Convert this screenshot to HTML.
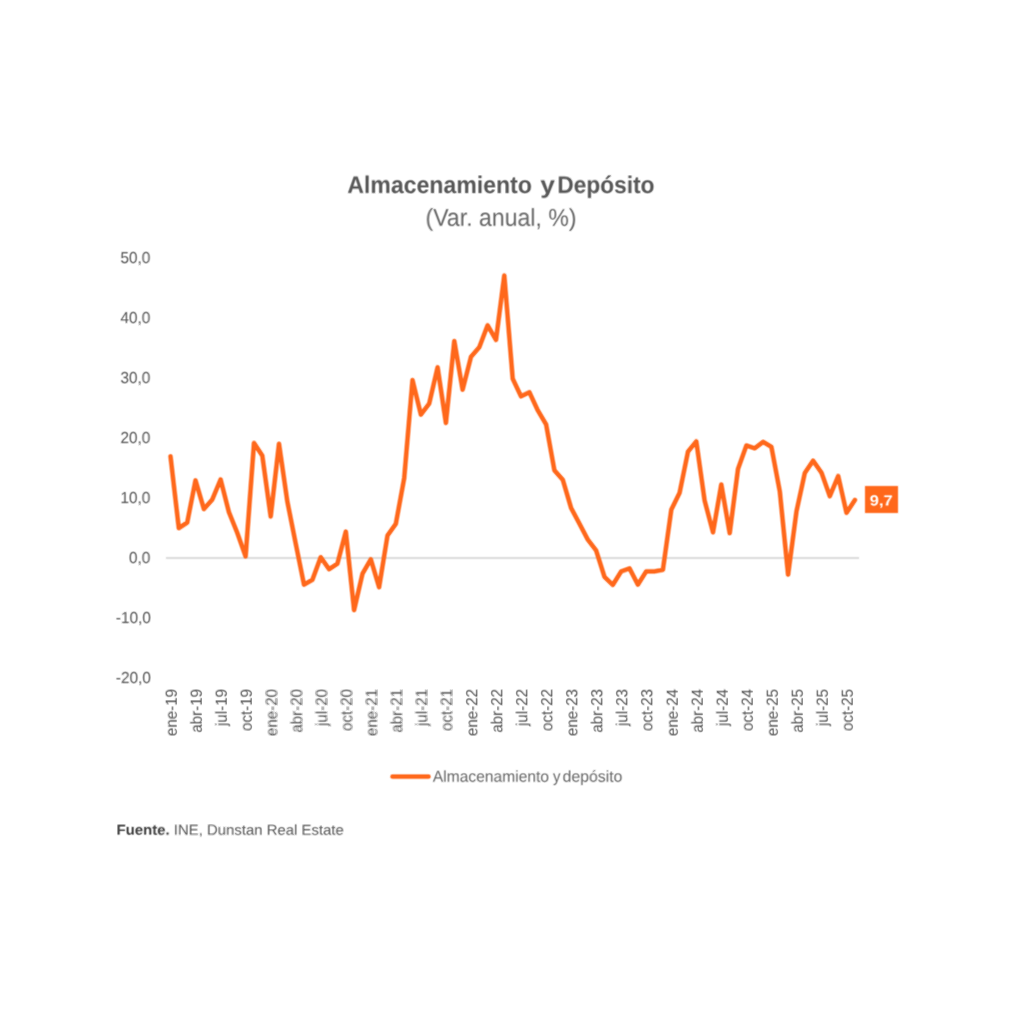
<!DOCTYPE html>
<html><head><meta charset="utf-8"><title>Almacenamiento y Depósito</title>
<style>
html,body{margin:0;padding:0;background:#fff;}
body{width:1024px;height:1024px;position:relative;overflow:hidden;font-family:"Liberation Sans",sans-serif;}
svg{position:absolute;left:0;top:0;filter:blur(0.2px);}
text{font-family:"Liberation Sans",sans-serif;text-rendering:geometricPrecision;}
.title{font-size:24.1px;font-weight:bold;fill:#595959;}
.sub{font-size:24.5px;fill:#6a6a6a;}
.yl{font-size:16.1px;fill:#555555;}
.xl{font-size:16px;fill:#555555;}
.leg{font-size:16px;fill:#6a6a6a;}
.src{font-size:14.5px;fill:#595959;}
.val{font-size:15px;font-weight:bold;fill:#fff;}
</style></head>
<body>
<svg width="1024" height="1024" viewBox="0 0 1024 1024">
<defs><g id="c">
<rect x="-2" y="-2" width="1028" height="1028" fill="#ffffff"/>
<text transform="translate(347.3,193) rotate(0.04)" class="title" textLength="184.6" lengthAdjust="spacingAndGlyphs">Almacenamiento</text>
<text transform="translate(540.3,193) rotate(0.04)" class="title" textLength="14.6" lengthAdjust="spacingAndGlyphs">y</text>
<text transform="translate(557.3,193) rotate(0.04)" class="title" textLength="97.2" lengthAdjust="spacingAndGlyphs">Depósito</text>
<text transform="translate(425.5,225.8) rotate(0.04)" class="sub" textLength="151" lengthAdjust="spacingAndGlyphs">(Var. anual, %)</text>
<text transform="translate(150.3,263.1) rotate(0.04) scale(0.955,1)" text-anchor="end" class="yl">50,0</text>
<text transform="translate(150.3,323.1) rotate(0.04) scale(0.955,1)" text-anchor="end" class="yl">40,0</text>
<text transform="translate(150.3,383.1) rotate(0.04) scale(0.955,1)" text-anchor="end" class="yl">30,0</text>
<text transform="translate(150.3,443.1) rotate(0.04) scale(0.955,1)" text-anchor="end" class="yl">20,0</text>
<text transform="translate(150.3,503.1) rotate(0.04) scale(0.955,1)" text-anchor="end" class="yl">10,0</text>
<text transform="translate(150.3,563.1) rotate(0.04) scale(0.955,1)" text-anchor="end" class="yl">0,0</text>
<text transform="translate(150.9,623.1) rotate(0.04) scale(0.955,1)" text-anchor="end" class="yl">-10,0</text>
<text transform="translate(150.9,683.1) rotate(0.04) scale(0.955,1)" text-anchor="end" class="yl">-20,0</text>

<line x1="166" y1="558" x2="859" y2="558" stroke="#d9d9d9" stroke-width="1.8"/>
<polyline points="170.5,456.3 178.8,528.1 187.2,522.6 195.5,480.4 203.9,509.0 212.2,499.7 220.6,479.5 228.9,512.1 237.3,532.9 245.6,556.4 254.0,443.0 262.3,455.7 270.7,516.5 279.0,443.8 287.3,501.3 295.7,543.5 304.0,584.6 312.4,579.8 320.7,557.2 329.1,569.2 337.4,563.7 345.8,531.6 354.1,610.1 362.5,573.7 370.8,559.3 379.1,587.2 387.5,535.5 395.8,523.9 404.2,478.2 412.5,380.1 420.9,414.6 429.2,403.6 437.6,367.3 445.9,422.9 454.3,341.1 462.6,389.7 471.0,356.8 479.3,347.2 487.6,325.3 496.0,339.9 504.3,275.5 512.7,378.7 521.0,396.3 529.4,392.3 537.7,410.2 546.1,424.4 554.4,470.3 562.8,479.8 571.1,508.0 579.5,523.8 587.8,539.6 596.1,550.4 604.5,576.9 612.8,584.9 621.2,571.4 629.5,568.4 637.9,584.6 646.2,571.4 654.6,571.4 662.9,569.8 671.3,509.7 679.6,492.8 688.0,451.6 696.3,441.4 704.6,500.5 713.0,532.3 721.3,484.5 729.7,533.1 738.0,469.0 746.4,445.5 754.7,448.3 763.1,441.9 771.4,446.9 779.8,491.4 788.1,574.6 796.5,511.3 804.8,473.0 813.1,460.7 821.5,472.7 829.8,496.2 838.2,476.1 846.5,512.8 854.9,500.0" fill="none" stroke="#ff681b" stroke-width="4.5" stroke-linejoin="round" stroke-linecap="round"/>
<rect x="865" y="486" width="33" height="27" fill="#ff681b"/>
<text transform="translate(881.2,505.6) rotate(0.04)" text-anchor="middle" class="val" textLength="23" lengthAdjust="spacingAndGlyphs">9,7</text>
<text transform="translate(176.7,689.0) rotate(-90) scale(0.945,1)" text-anchor="end" class="xl">ene-19</text>
<text transform="translate(201.7,689.0) rotate(-90) scale(0.945,1)" text-anchor="end" class="xl">abr-19</text>
<text transform="translate(226.8,689.0) rotate(-90) scale(0.945,1)" text-anchor="end" class="xl">jul-19</text>
<text transform="translate(251.8,689.0) rotate(-90) scale(0.945,1)" text-anchor="end" class="xl">oct-19</text>
<text transform="translate(276.9,689.0) rotate(-90) scale(0.945,1)" text-anchor="end" class="xl">ene-20</text>
<text transform="translate(301.9,689.0) rotate(-90) scale(0.945,1)" text-anchor="end" class="xl">abr-20</text>
<text transform="translate(326.9,689.0) rotate(-90) scale(0.945,1)" text-anchor="end" class="xl">jul-20</text>
<text transform="translate(352.0,689.0) rotate(-90) scale(0.945,1)" text-anchor="end" class="xl">oct-20</text>
<text transform="translate(377.0,689.0) rotate(-90) scale(0.945,1)" text-anchor="end" class="xl">ene-21</text>
<text transform="translate(402.0,689.0) rotate(-90) scale(0.945,1)" text-anchor="end" class="xl">abr-21</text>
<text transform="translate(427.1,689.0) rotate(-90) scale(0.945,1)" text-anchor="end" class="xl">jul-21</text>
<text transform="translate(452.1,689.0) rotate(-90) scale(0.945,1)" text-anchor="end" class="xl">oct-21</text>
<text transform="translate(477.2,689.0) rotate(-90) scale(0.945,1)" text-anchor="end" class="xl">ene-22</text>
<text transform="translate(502.2,689.0) rotate(-90) scale(0.945,1)" text-anchor="end" class="xl">abr-22</text>
<text transform="translate(527.2,689.0) rotate(-90) scale(0.945,1)" text-anchor="end" class="xl">jul-22</text>
<text transform="translate(552.3,689.0) rotate(-90) scale(0.945,1)" text-anchor="end" class="xl">oct-22</text>
<text transform="translate(577.3,689.0) rotate(-90) scale(0.945,1)" text-anchor="end" class="xl">ene-23</text>
<text transform="translate(602.3,689.0) rotate(-90) scale(0.945,1)" text-anchor="end" class="xl">abr-23</text>
<text transform="translate(627.4,689.0) rotate(-90) scale(0.945,1)" text-anchor="end" class="xl">jul-23</text>
<text transform="translate(652.4,689.0) rotate(-90) scale(0.945,1)" text-anchor="end" class="xl">oct-23</text>
<text transform="translate(677.5,689.0) rotate(-90) scale(0.945,1)" text-anchor="end" class="xl">ene-24</text>
<text transform="translate(702.5,689.0) rotate(-90) scale(0.945,1)" text-anchor="end" class="xl">abr-24</text>
<text transform="translate(727.5,689.0) rotate(-90) scale(0.945,1)" text-anchor="end" class="xl">jul-24</text>
<text transform="translate(752.6,689.0) rotate(-90) scale(0.945,1)" text-anchor="end" class="xl">oct-24</text>
<text transform="translate(777.6,689.0) rotate(-90) scale(0.945,1)" text-anchor="end" class="xl">ene-25</text>
<text transform="translate(802.7,689.0) rotate(-90) scale(0.945,1)" text-anchor="end" class="xl">abr-25</text>
<text transform="translate(827.7,689.0) rotate(-90) scale(0.945,1)" text-anchor="end" class="xl">jul-25</text>
<text transform="translate(852.7,689.0) rotate(-90) scale(0.945,1)" text-anchor="end" class="xl">oct-25</text>

<line x1="392.5" y1="776.6" x2="428.5" y2="776.6" stroke="#ff681b" stroke-width="4.5" stroke-linecap="round"/>
<text transform="translate(432.8,781.8) rotate(0.04)" class="leg" textLength="116.2" lengthAdjust="spacingAndGlyphs">Almacenamiento</text>
<text transform="translate(552.9,781.8) rotate(0.04)" class="leg" textLength="7.5" lengthAdjust="spacingAndGlyphs">y</text>
<text transform="translate(562.6,781.8) rotate(0.04)" class="leg" textLength="59.8" lengthAdjust="spacingAndGlyphs">depósito</text>
<text transform="translate(116.6,834.7) rotate(0.04)" class="src" textLength="227.2" lengthAdjust="spacingAndGlyphs"><tspan font-weight="bold" fill="#404040">Fuente.</tspan> INE, Dunstan Real Estate</text>
</g></defs>
<rect width="1024" height="1024" fill="#ffffff"/>
<use href="#c" x="-0.65" y="-0.65" opacity="1"/>
<use href="#c" x="0.65" y="-0.65" opacity="0.5"/>
<use href="#c" x="-0.65" y="0.65" opacity="0.33333"/>
<use href="#c" x="0.65" y="0.65" opacity="0.25"/>
<use href="#c" x="0" y="0" opacity="0.33333"/>
</svg>
</body></html>
